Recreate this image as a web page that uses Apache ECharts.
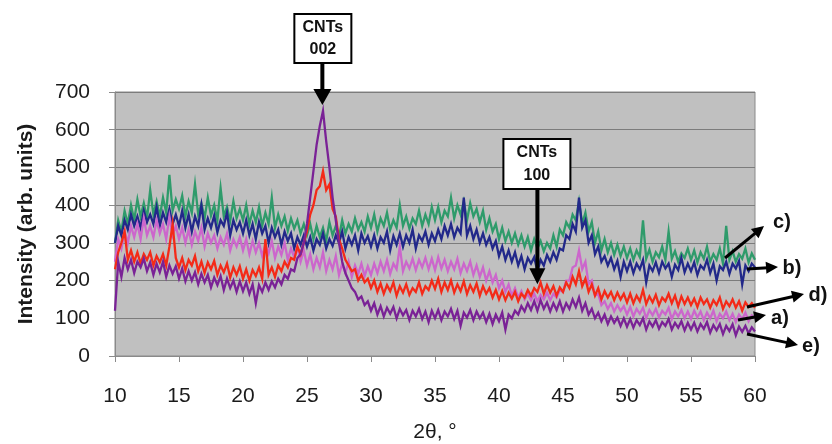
<!DOCTYPE html>
<html>
<head>
<meta charset="utf-8">
<script src="https://cdn.jsdelivr.net/npm/echarts@6/dist/echarts.min.js"></script>
<style>
html,body{margin:0;padding:0;background:#fff;}
#chart{width:832px;height:444px;}
</style>
</head>
<body>
<div id="chart"></div>
<script>
// 2θ sampling: 10° to 60° in 0.25° steps (201 points)
const thetaStart = 10, thetaStep = 0.25;
const xTicks = [10, 15, 20, 25, 30, 35, 40, 45, 50, 55, 60];
const yTicks = [0, 100, 200, 300, 400, 500, 600, 700];

// c) green
const seriesC = [
300,360,330,385,350,400,360,415,370,405,365,440,375,410,370,420,380,480,385,415,
390,425,370,410,380,455,375,405,365,420,372,400,360,445,370,395,358,410,365,390,
360,400,350,385,355,395,345,380,350,420,340,375,345,370,332,365,338,360,325,350,
320,350,310,345,315,340,305,355,320,345,315,360,325,350,330,365,335,355,330,370,
340,375,330,365,345,380,335,360,340,400,345,370,338,365,350,385,345,375,350,395,
360,395,355,385,370,420,365,400,375,410,360,405,370,390,355,385,335,365,330,350,
310,340,305,330,300,325,295,320,290,315,280,310,285,305,278,300,285,320,290,335,
320,355,340,375,360,410,350,380,330,355,300,330,280,310,275,300,268,295,265,290,
260,285,255,280,262,360,258,282,250,275,262,290,255,330,258,278,250,272,260,285,
255,280,248,275,258,290,250,270,255,285,245,345,255,278,250,270,258,285,248,272,
255];
// b) navy
const seriesB = [
300,345,320,360,335,375,345,370,340,385,355,375,350,395,345,380,355,390,350,375,
345,385,340,375,330,370,345,400,335,365,340,372,328,360,345,380,320,360,335,355,
325,360,320,350,310,355,325,345,300,340,315,335,295,330,305,325,285,315,295,320,
290,315,280,310,295,325,285,310,292,320,300,330,285,315,295,320,280,325,300,318,
290,320,285,315,300,330,280,318,295,325,290,320,300,335,285,320,305,330,295,325,
305,335,310,345,320,350,315,340,325,420,320,345,310,335,300,325,295,315,285,305,
265,290,255,280,250,275,240,265,230,260,245,262,225,255,240,268,250,275,255,285,
280,320,310,350,330,420,340,360,300,320,270,290,250,265,240,260,230,252,210,250,
225,250,220,245,230,255,195,240,225,248,220,250,232,245,210,242,228,260,222,245,
225,248,215,240,230,255,220,245,200,238,228,250,218,245,232,252,190,240,225,245,
235];
// a) pink
const seriesA = [
250,310,285,330,300,345,315,350,310,365,320,345,315,360,325,350,310,370,320,345,
310,340,300,335,295,330,305,340,290,325,300,320,285,315,295,325,280,310,290,315,
280,310,270,305,275,300,265,295,272,305,260,290,268,300,255,285,262,290,250,280,
240,270,230,260,235,275,225,255,230,265,215,245,220,250,210,240,218,245,212,238,
215,245,220,250,225,255,218,245,230,290,225,250,232,258,228,255,235,260,230,258,
228,262,232,255,225,250,230,258,220,245,225,250,215,240,210,235,200,225,195,215,
180,200,170,190,160,180,155,172,150,165,148,165,145,162,150,168,148,165,155,175,
170,200,200,235,240,280,230,250,190,200,160,165,135,145,125,140,118,135,120,132,
110,130,105,125,112,128,100,122,108,125,102,120,110,128,98,118,105,122,100,118,
98,120,102,118,95,115,100,120,92,112,100,118,95,112,90,110,98,115,92,108,
100];
// d) red
const seriesD = [
230,275,300,330,255,280,250,275,245,270,255,275,240,265,248,270,240,290,350,260,
235,260,228,255,240,265,225,250,220,248,230,252,215,240,222,245,208,235,215,238,
205,230,200,228,212,235,205,310,215,235,210,240,225,250,235,260,255,290,270,300,
330,375,400,440,450,490,440,455,390,370,310,285,255,240,225,230,200,215,195,205,
180,200,170,192,165,188,172,195,160,185,168,190,162,180,170,195,165,185,175,200,
178,205,170,195,175,200,168,190,172,198,165,188,170,192,160,185,165,180,155,175,
150,172,148,168,152,170,145,165,155,175,160,180,170,195,165,188,168,185,160,182,
170,195,180,210,190,225,185,205,170,190,160,180,150,172,155,170,148,168,150,165,
142,165,140,160,145,175,138,158,142,162,135,155,145,165,140,160,132,158,138,155,
135,152,130,155,138,150,128,148,135,155,125,145,132,150,128,145,120,142,130,140,
128];
// e) purple
const seriesE = [
120,250,210,260,230,255,220,250,235,258,225,248,215,245,222,250,210,240,218,238,
205,232,198,225,200,222,190,218,195,215,182,208,188,212,175,205,180,200,170,198,
172,195,165,190,140,188,170,195,175,198,182,205,190,215,205,230,225,260,270,300,
350,420,490,560,610,650,570,500,420,360,300,250,220,200,180,170,150,158,135,145,
120,140,110,132,105,128,112,130,100,125,108,122,95,120,105,125,98,118,90,120,
100,122,95,118,105,125,98,120,80,115,102,122,95,118,100,115,90,112,85,110,
92,115,70,110,100,120,110,132,118,140,122,145,120,148,125,142,118,140,122,145,
118,140,125,150,130,155,120,140,110,125,100,115,92,110,85,105,88,102,80,100,
78,98,75,95,82,100,70,92,78,95,72,90,80,98,70,88,75,92,68,88,
70,88,65,85,72,90,62,82,68,85,58,80,66,84,55,78,64,80,60,76,
65];

const seriesNames = ['c)', 'b)', 'a)', 'd)', 'e)'];
const seriesValues = [seriesC, seriesB, seriesA, seriesD, seriesE];
const seriesColors = ['#2f9b6b', '#22288a', '#cc66cc', '#f42a18', '#7a2296'];

function pairs(vals) {
  return vals.map((v, i) => [thetaStart + i * thetaStep, v]);
}

const chart = echarts.init(document.getElementById('chart'), null, {renderer: 'canvas'});
const FONT = 'Liberation Sans, Arial, sans-serif';

chart.setOption({
  animation: false,
  backgroundColor: '#ffffff',
  grid: {
    left: 115, right: 77, top: 92, bottom: 88,
    show: true, backgroundColor: '#c0c0c0', borderColor: '#8a8a8a', borderWidth: 1
  },
  xAxis: {
    type: 'value', min: xTicks[0], max: xTicks[xTicks.length - 1], interval: 5,
    axisLine: {show: true, lineStyle: {color: '#8a8a8a', width: 1}},
    axisTick: {show: true, length: 6, lineStyle: {color: '#8a8a8a'}},
    axisLabel: {fontSize: 21, color: '#1a1a1a', fontFamily: FONT, margin: 30},
    splitLine: {show: false}
  },
  yAxis: {
    type: 'value', min: yTicks[0], max: yTicks[yTicks.length - 1], interval: 100,
    axisLine: {show: true, lineStyle: {color: '#8a8a8a', width: 1}},
    axisTick: {show: true, length: 6, lineStyle: {color: '#8a8a8a'}},
    axisLabel: {fontSize: 21, color: '#1a1a1a', fontFamily: FONT, margin: 25},
    splitLine: {show: true, lineStyle: {color: '#7c7c7c', width: 1}}
  },
  series: seriesNames.map((n, k) => ({
    name: n, type: 'line', data: pairs(seriesValues[k]),
    showSymbol: false, symbol: 'none', smooth: false,
    lineStyle: {color: seriesColors[k], width: 2.3, join: 'miter'},
    z: 2 + k
  }))
});

// Annotations
function arrow(x1, y1, x2, y2, w, hl, hw) {
  const dx = x2 - x1, dy = y2 - y1, L = Math.sqrt(dx * dx + dy * dy);
  const ux = dx / L, uy = dy / L, px = -uy, py = ux;
  const bx = x2 - ux * hl, by = y2 - uy * hl;
  return [
    {type: 'line', shape: {x1: x1, y1: y1, x2: bx + ux * 2, y2: by + uy * 2},
     style: {stroke: '#000', lineWidth: w}, z: 100},
    {type: 'polygon', shape: {points: [[x2, y2], [bx + px * hw / 2, by + py * hw / 2], [bx - px * hw / 2, by - py * hw / 2]]},
     style: {fill: '#000'}, z: 100}
  ];
}
function box(x, y, w, h, l1, l2) {
  return [
    {type: 'rect', shape: {x: x, y: y, width: w, height: h},
     style: {fill: '#fff', stroke: '#000', lineWidth: 2}, z: 100},
    {type: 'text', x: x + w / 2, y: y + h * 0.27,
     style: {text: l1, font: 'bold 16px ' + FONT, fill: '#111', textAlign: 'center', textVerticalAlign: 'middle'}, z: 101},
    {type: 'text', x: x + w / 2, y: y + h * 0.73,
     style: {text: l2, font: 'bold 16px ' + FONT, fill: '#111', textAlign: 'center', textVerticalAlign: 'middle'}, z: 101}
  ];
}
function label(x, y, t) {
  return {type: 'text', x: x, y: y,
    style: {text: t, font: 'bold 20px ' + FONT, fill: '#111', textAlign: 'center', textVerticalAlign: 'middle'}, z: 101};
}

const peak002 = chart.convertToPixel({gridIndex: 0}, [26.2, 655]);
const peak100 = chart.convertToPixel({gridIndex: 0}, [43.0, 185]);

let g = [];
g = g.concat(box(peak002[0] - 28, 14, 57, 49, 'CNTs', '002'));
g = g.concat(arrow(peak002[0], 63, peak002[0], peak002[1] - 4, 4, 16, 18));
g = g.concat(box(peak100[0] - 34, 139, 67, 50, 'CNTs', '100'));
g = g.concat(arrow(peak100[0], 189, peak100[0], peak100[1] - 2, 4, 16, 16));

g = g.concat(arrow(725, 258, 764, 226, 3, 12, 12));
g = g.concat(arrow(747, 269, 778, 267, 3, 12, 12));
g = g.concat(arrow(747, 307, 804, 294, 3, 12, 12));
g = g.concat(arrow(738, 320, 766, 315, 3, 12, 12));
g = g.concat(arrow(747, 334, 798, 345, 3, 12, 12));
g.push(label(782, 222, 'c)'));
g.push(label(792, 268, 'b)'));
g.push(label(818, 295, 'd)'));
g.push(label(780, 318, 'a)'));
g.push(label(811, 346, 'e)'));

// axis titles
g.push({type: 'text', x: 435, y: 432,
  style: {text: '2θ, °', font: '21px ' + FONT, fill: '#1a1a1a', textAlign: 'center', textVerticalAlign: 'middle'}, z: 101});
g.push({type: 'text', x: 26, y: 224, rotation: Math.PI / 2,
  style: {text: 'Intensity (arb. units)', font: 'bold 21px ' + FONT, fill: '#1a1a1a', textAlign: 'center', textVerticalAlign: 'middle'}, z: 101});

chart.setOption({graphic: g});
</script>
</body>
</html>
